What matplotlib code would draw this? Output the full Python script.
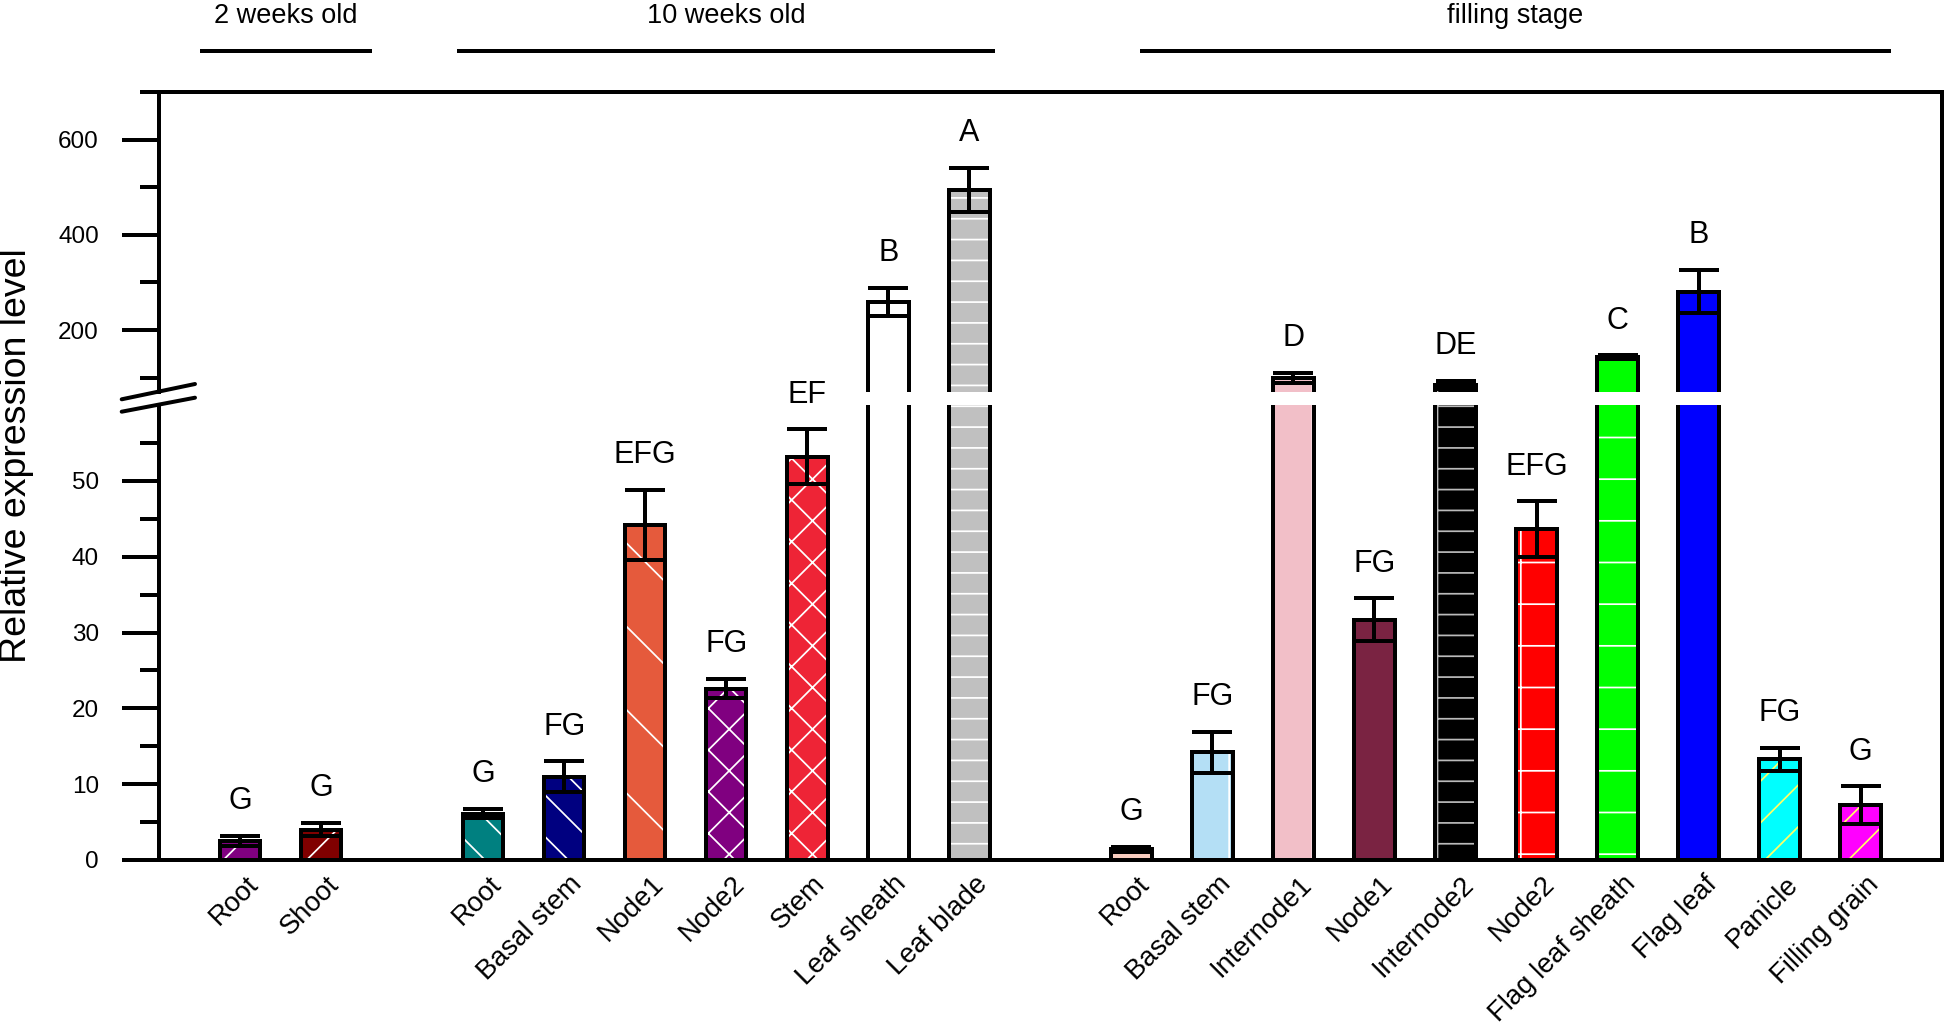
import numpy as np
import matplotlib
matplotlib.use('Agg')
import matplotlib.pyplot as plt
import matplotlib.transforms as mtransforms
from matplotlib.lines import Line2D

plt.rcParams['font.family'] = ['Liberation Sans', 'DejaVu Sans']
plt.rcParams['hatch.linewidth'] = 0.5

# groups of tissues (a blank slot is left between groups)
group_names = ['2 weeks old', '10 weeks old', 'filling stage']
group_sizes = [2, 7, 10]

tissues = ['Root', 'Shoot',
           'Root', 'Basal stem', 'Node1', 'Node2', 'Stem', 'Leaf sheath', 'Leaf blade',
           'Root', 'Basal stem', 'Internode1', 'Node1', 'Internode2', 'Node2',
           'Flag leaf sheath', 'Flag leaf', 'Panicle', 'Filling grain']
expression = [2.5, 4.0,
              6.1, 11.0, 44.2, 22.6, 53.2, 259, 495,
              1.4, 14.2, 99, 31.7, 85, 43.6, 143, 281, 13.3, 7.2]
sd = [0.7, 0.9,
      0.6, 2.0, 4.6, 1.3, 3.6, 30, 46,
      0.3, 2.7, 11, 2.8, 9, 3.7, 4, 45, 1.5, 2.5]
letters = ['G', 'G',
           'G', 'FG', 'EFG', 'FG', 'EF', 'B', 'A',
           'G', 'FG', 'D', 'FG', 'DE', 'EFG', 'C', 'B', 'FG', 'G']

colors = ['#800080', '#800000',
          '#008080', '#000080', '#E55A3C', '#800080', '#EE2436', '#FFFFFF', '#C0C0C0',
          '#F9CDBF', '#B4DFF5', '#F2BFC8', '#7A2342', '#000000', '#FF0000',
          '#00FF00', '#0000FF', '#00FFFF', '#FF00FF']
hatches = ['//', '//',
           '\\\\', '\\\\', '\\', 'xx', 'xx', '', '--',
           '', '|', '|', '', '+-', '+', '-', '', '//', '//']
hatch_colors = ['white'] * 13 + ['#BBBBBB'] + ['white'] * 3 + ['#FFFF66', '#FFFF66']

# header line extents in data units
header_spans = [(-0.47, 1.60), (2.70, 9.29), (11.13, 20.35)]

# bar positions with a gap between groups
x = []
start = 0
for n in group_sizes:
    x.extend(range(start, start + n))
    start += n + 1
x = np.array(x)

W, H = 1946, 1025
fig = plt.figure(figsize=(W / 250, H / 250), dpi=250)

left, right = 159 / W, 1941.7 / W
ax_hi = fig.add_axes([left, 1 - 392 / H, right - left, 300 / H])
ax_lo = fig.add_axes([left, 1 - 860 / H, right - left, 455 / H])

lw = 1.15


def draw_bars(ax):
    for xi, v, c, h, hc in zip(x, expression, colors, hatches, hatch_colors):
        ax.bar(xi, v, width=0.5, color=c, hatch=h, edgecolor=hc, linewidth=0, zorder=2)
    ax.bar(x, expression, width=0.5, fill=False, edgecolor='black', linewidth=lw, zorder=3)
    ax.errorbar(x, expression, yerr=sd, fmt='none', ecolor='black',
                elinewidth=lw, capsize=5.8, capthick=lw, zorder=4)
    ax.set_xlim(x[0] - 1, x[-1] + 1)
    for s in ax.spines.values():
        s.set_linewidth(lw)
    ax.tick_params(axis='y', which='major', length=10.7, width=lw, labelsize=7, pad=6.6)
    ax.tick_params(axis='y', which='minor', length=5.5, width=lw)


draw_bars(ax_hi)
draw_bars(ax_lo)

ax_hi.set_ylim(70, 700)
ax_hi.set_yticks([200, 400, 600])
ax_hi.set_yticks([100, 300, 500, 700], minor=True)
ax_hi.spines['bottom'].set_visible(False)
ax_hi.set_xticks([])

ax_lo.set_ylim(0, 60)
ax_lo.set_yticks(np.arange(0, 51, 10))
ax_lo.set_yticks(np.arange(5, 56, 10), minor=True)
ax_lo.spines['top'].set_visible(False)
ax_lo.set_xticks(x)
ax_lo.set_xticklabels(tissues, rotation=45, ha='right', va='top',
                      rotation_mode='anchor', fontsize=7.9)
ax_lo.tick_params(axis='x', length=0, pad=3.2)
shift = mtransforms.ScaledTranslation(5 / 250, 0, fig.dpi_scale_trans)
for lab in ax_lo.get_xticklabels():
    lab.set_transform(lab.get_transform() + shift)

# significance letters
for xi, v, e, t in zip(x, expression, sd, letters):
    ax = ax_hi if v + e > 60 else ax_lo
    ax.annotate(t, (xi, v + e), xytext=(0, 10), textcoords='offset points',
                ha='center', va='center', fontsize=8.8)

# right border across the break
fig.add_artist(Line2D([right, right], [1 - 392 / H, 1 - 405 / H],
                      transform=fig.transFigure, color='black', lw=lw))
# axis break marks
for y0, y1 in [(399.3, 384.0), (411.7, 397.7)]:
    fig.add_artist(Line2D([121.7 / W, 195 / W], [1 - y0 / H, 1 - y1 / H],
                          transform=fig.transFigure, color='black', lw=lw,
                          solid_capstyle='round'))

# group headers
trans = mtransforms.blended_transform_factory(ax_hi.transData, fig.transFigure)
for name, (a, b) in zip(group_names, header_spans):
    fig.add_artist(Line2D([a, b], [1 - 51 / H, 1 - 51 / H], transform=trans,
                          color='black', lw=lw))
    fig.text((a + b) / 2, 1 - 16 / H, name, transform=trans,
             ha='center', va='center', fontsize=7.8)

fig.text(17 / W, 1 - 456 / H, 'Relative expression level', rotation=90,
         ha='center', va='center', fontsize=10.8)

fig.savefig('out.png', dpi=250)
